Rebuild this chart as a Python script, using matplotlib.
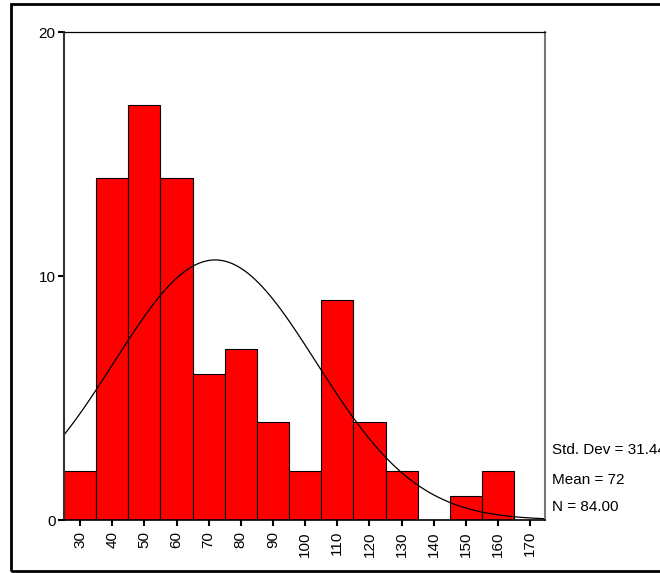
import numpy as np
import matplotlib.pyplot as plt
from matplotlib.patches import Rectangle

plt.rcParams['font.family'] = ['Liberation Sans', 'DejaVu Sans']

# histogram bins (midpoints) and counts
mids = [30, 40, 50, 60, 70, 80, 90, 100, 110, 120, 130, 140, 150, 160]
counts = [2, 14, 17, 14, 6, 7, 4, 2, 9, 4, 2, 0, 1, 2]
xticks = [30, 40, 50, 60, 70, 80, 90, 100, 110, 120, 130, 140, 150, 160, 170]
std_dev = 31.44
mean = 72
n = 84
bin_w = 10

fig = plt.figure(figsize=(6.6, 5.73), dpi=100)
ax = fig.add_axes([64 / 660, 1 - 520 / 573, 481 / 660, 488 / 573])

ax.bar(mids, counts, width=bin_w, color='#ff0000', edgecolor='black', lw=0.8)

# fitted normal curve
xs = np.linspace(25, 175, 400)
ys = n * bin_w / (std_dev * np.sqrt(2 * np.pi)) * np.exp(-(xs - mean) ** 2 / (2 * std_dev ** 2))
ax.plot(xs, ys, c='black', lw=0.9)

ax.set_xlim(25, 174.6)
ax.set_ylim(0, 20)
ax.set_yticks([0, 10, 20])
ax.set_xticks(xticks)
ax.set_xticklabels([str(t) for t in xticks], rotation=90, fontsize=11)
ax.tick_params(axis='y', labelsize=11, length=4, width=1.5, direction='out', pad=2)
ax.tick_params(axis='x', length=4, width=1.5, direction='out', pad=4)

ax.spines['left'].set_color('#333333')
ax.spines['left'].set_linewidth(1.5)
ax.spines['right'].set_color('#777777')
ax.spines['right'].set_linewidth(1.5)
ax.spines['top'].set_linewidth(0.9)
ax.spines['bottom'].set_linewidth(1.2)

# stats text
fig.text(552 / 660, 1 - 450 / 573, 'Std. Dev = %.2f' % std_dev, fontsize=11, va='center')
fig.text(552 / 660, 1 - 480 / 573, 'Mean = %d' % mean, fontsize=11, va='center')
fig.text(552 / 660, 1 - 507 / 573, 'N = %.2f' % n, fontsize=11, va='center')

# outer frame
fig.patches.append(Rectangle((11 / 660, 1 - 571 / 573), 700 / 660, 567 / 573,
                             transform=fig.transFigure, fill=False,
                             edgecolor='black', lw=2))

fig.savefig('out.png', dpi=100)
